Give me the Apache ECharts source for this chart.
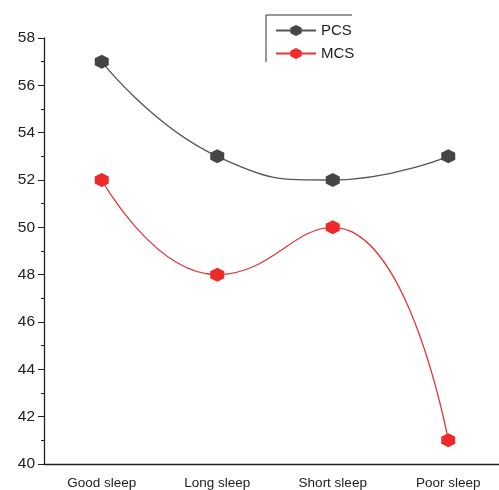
<!DOCTYPE html>
<html>
<head>
<meta charset="utf-8">
<script src="https://cdn.jsdelivr.net/npm/echarts@6/dist/echarts.min.js"></script>
<style>
  html, body { margin: 0; padding: 0; background: #fff; }
  #chart { width: 499px; height: 490px; }
</style>
</head>
<body>
<div id="chart"></div>
<script>
// data
const categories = ['Good sleep', 'Long sleep', 'Short sleep', 'Poor sleep']
const pcsValues = [57, 53, 52, 53]
const mcsValues = [52, 48, 50, 41]

const hexagon = 'path://M0,-10 L8.66,-5 L8.66,5 L0,10 L-8.66,5 L-8.66,-5 Z'
const font = 'Liberation Sans, Arial, sans-serif'

const chart = echarts.init(document.getElementById('chart'))

const option = {
  animation: false,
  // the plot runs past the right edge in the figure, so no outer-bounds clamping
  grid: { left: 44, top: 38, width: 462, height: 426, outerBoundsMode: 'none', containLabel: false },
  legend: {
    left: 270, top: 18, orient: 'vertical', itemGap: 8,
    itemWidth: 40, itemHeight: 14,
    textStyle: { fontFamily: font, fontSize: 15, color: '#222' },
    data: ['PCS', 'MCS']
  },
  graphic: [
    // legend frame (top + left edges only, as in the figure)
    { type: 'line', shape: { x1: 266, y1: 15, x2: 352, y2: 15 }, style: { stroke: '#333', lineWidth: 1 } },
    { type: 'line', shape: { x1: 266, y1: 15, x2: 266, y2: 62 }, style: { stroke: '#333', lineWidth: 1 } }
  ],
  xAxis: [{
    type: 'category',
    data: categories,
    boundaryGap: true,
    axisLine: { lineStyle: { color: '#222', width: 1.3 } },
    axisTick: { alignWithLabel: true, length: 6, lineStyle: { color: '#222' } },
    axisLabel: { fontFamily: font, fontSize: 13.5, color: '#222', margin: 12 }
  }, {
    // second axis just to draw the short boundary ticks between categories
    type: 'category',
    position: 'bottom',
    data: categories,
    boundaryGap: true,
    axisLine: { show: false },
    axisTick: { length: 3, lineStyle: { color: '#222', width: 1.5 } },
    axisLabel: { show: false }
  }],
  yAxis: {
    type: 'value',
    min: 40, max: 58, interval: 2,
    axisLine: { show: true, lineStyle: { color: '#222', width: 1.3 } },
    axisTick: { show: true, length: 6, lineStyle: { color: '#222' } },
    minorTick: { show: true, splitNumber: 2, length: 3, lineStyle: { color: '#222' } },
    splitLine: { show: false },
    axisLabel: { fontFamily: font, fontSize: 15.5, color: '#222', margin: 9 }
  },
  series: [{
    name: 'PCS',
    type: 'line',
    data: pcsValues,
    smooth: 0.5,
    symbol: hexagon,
    symbolSize: 14,
    itemStyle: { color: '#454545' },
    lineStyle: { color: '#555', width: 1.3 }
  }, {
    name: 'MCS',
    type: 'line',
    data: mcsValues,
    smooth: 0.5,
    symbol: hexagon,
    symbolSize: 14,
    itemStyle: { color: '#ee2a2a' },
    lineStyle: { color: '#e0393b', width: 1.3 }
  }]
}

chart.setOption(option)
</script>
</body>
</html>
